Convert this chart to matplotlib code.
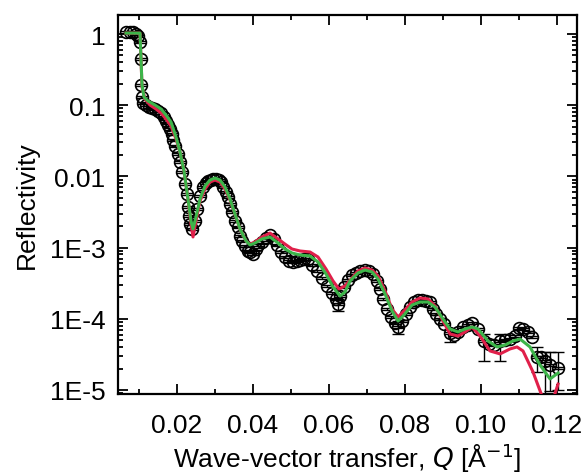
import numpy as np
import matplotlib
matplotlib.use("Agg")
import matplotlib.pyplot as plt
from matplotlib.ticker import FixedLocator, FixedFormatter, MultipleLocator, LogLocator, NullFormatter

plt.rcParams['font.family'] = ['Liberation Sans', 'DejaVu Sans']

# ---- measured data (circles) ----
Q_data = [0.00658, 0.00763, 0.00842, 0.00921, 0.00974, 0.01026, 0.0104, 0.01053, 0.01079, 0.01105,
          0.01184, 0.01263, 0.01342, 0.01421, 0.0150, 0.01579, 0.01658, 0.01711, 0.01763, 0.01816,
          0.01868, 0.01895, 0.01947, 0.02026, 0.02079, 0.02132, 0.0221, 0.02263, 0.02289, 0.02316,
          0.02342, 0.02395, 0.02474, 0.02526, 0.02605, 0.02684, 0.02763, 0.02816, 0.02895, 0.02947,
          0.03026, 0.03105, 0.03158, 0.03211, 0.03289, 0.03342, 0.03395, 0.03447, 0.03526, 0.03605,
          0.03658, 0.03711, 0.03789, 0.03868, 0.03921, 0.0400, 0.04079, 0.04132, 0.04237, 0.04342,
          0.04447, 0.04553, 0.04632, 0.04737, 0.04842, 0.04947, 0.05053, 0.05158, 0.05237, 0.05342,
          0.05447, 0.05553, 0.05684, 0.05816, 0.05947, 0.06079, 0.06184, 0.06237, 0.06289, 0.06395,
          0.0650, 0.06605, 0.06711, 0.06816, 0.06947, 0.07053, 0.07158, 0.07263, 0.07342, 0.07421,
          0.07526, 0.07632, 0.07737, 0.07816, 0.07921, 0.08026, 0.08132, 0.08237, 0.08342, 0.08447,
          0.08553, 0.08658, 0.08737, 0.08816, 0.08921, 0.09026, 0.09184, 0.09289, 0.09395, 0.09526,
          0.09658, 0.09763, 0.09921, 0.10079, 0.10211, 0.10342, 0.1050, 0.10632, 0.10763, 0.10895,
          0.1100, 0.11105, 0.11237, 0.11342, 0.11474, 0.11579, 0.11684, 0.11816, 0.12026]
R_data = [1.07, 1.07, 1.07, 1.00, 0.937, 0.772, 0.446, 0.192, 0.130, 0.107,
          0.1006, 0.0944, 0.0914, 0.0885, 0.0829, 0.0777, 0.0683, 0.060, 0.0527, 0.0463,
          0.0394, 0.0325, 0.0267, 0.0206, 0.0159, 0.0115, 0.00782, 0.00566, 0.00372, 0.00278,
          0.00214, 0.00183, 0.00237, 0.00349, 0.00531, 0.0071, 0.00807, 0.00861, 0.00889, 0.00919,
          0.00919, 0.00889, 0.00834, 0.0071, 0.00604, 0.00514, 0.00409, 0.00316, 0.00237, 0.00195,
          0.00146, 0.00124, 0.00105, 0.000896, 0.000867, 0.000813, 0.000955, 0.00109, 0.0012, 0.00136,
          0.0015, 0.00132, 0.00109, 0.000867, 0.000738, 0.000649, 0.000628, 0.000649, 0.00067, 0.000692,
          0.000692, 0.00057, 0.000469, 0.000374, 0.000289, 0.00023, 0.00019, 0.000161, 0.000209, 0.00028,
          0.000351, 0.000412, 0.00044, 0.000469, 0.000484, 0.000469, 0.000426, 0.00034, 0.000262, 0.00019,
          0.000137, 0.000106, 8.73e-5, 7.67e-5, 9.31e-5, 0.000117, 0.000146, 0.000172, 0.000184, 0.000184,
          0.000178, 0.000172, 0.000137, 0.000117, 9.93e-5, 8.45e-5, 6.32e-5, 5.92e-5, 6.53e-5, 7.67e-5,
          8.18e-5, 8.73e-5, 7.19e-5, 4.88e-5, 4.42e-5, 4.28e-5, 4.88e-5, 5.04e-5, 5.2e-5, 5.73e-5,
          7.43e-5, 7.19e-5, 6.53e-5, 5.55e-5, 2.9e-5, 2.9e-5, 2.55e-5, 2.24e-5, 2.04e-5]
SMALL_REL_ERR = 0.03  # small error bars hidden inside the circles

# points with visibly large error bars
bar_Q  = [0.06237, 0.07816, 0.09184, 0.10079, 0.1050, 0.11474, 0.11684, 0.11816, 0.12026]
bar_R  = [0.000161, 7.67e-5, 6.32e-5, 4.88e-5, 4.88e-5, 2.9e-5, 2.55e-5, 2.24e-5, 2.04e-5]
bar_lo = [0.000128, 6.1e-5, 4.7e-5, 2.55e-5, 2.55e-5, 1.79e-5, 7.5e-6, 9.7e-6, 1.0e-5]
bar_hi = [0.00019, 9.3e-5, 7.2e-5, 6.1e-5, 6.1e-5, 4.0e-5, 3.42e-5, 3.42e-5, 3.42e-5]

# ---- model curves ----
Q_green = [0.00658, 0.01026, 0.01053, 0.01079, 0.01132, 0.01237, 0.01421, 0.01579, 0.01711, 0.01842,
           0.01974, 0.02079, 0.02184, 0.02289, 0.02368, 0.02421, 0.0250, 0.02605, 0.02737, 0.02868,
           0.0300, 0.03132, 0.03263, 0.03395, 0.03526, 0.03658, 0.03816, 0.03921, 0.04053, 0.04237,
           0.04447, 0.04658, 0.04842, 0.05026, 0.05237, 0.0550, 0.0571, 0.05921, 0.06105, 0.06289,
           0.06421, 0.06553, 0.06763, 0.06947, 0.07132, 0.07289, 0.07474, 0.07658, 0.07816, 0.07974,
           0.08184, 0.08395, 0.08605, 0.08789, 0.0900, 0.09184, 0.09395, 0.09579, 0.09763, 0.09921,
           0.10184, 0.10421, 0.10632, 0.10842, 0.11026, 0.11289, 0.11553, 0.11816, 0.12026]
R_green = [1.03, 1.03, 0.446, 0.192, 0.130, 0.1146, 0.1006, 0.0885, 0.0728, 0.0581,
           0.0357, 0.0220, 0.0119, 0.00482, 0.00237, 0.00183, 0.00269, 0.00482, 0.00733, 0.00889,
           0.0095, 0.00889, 0.0071, 0.00482, 0.00296, 0.00183, 0.00124, 0.00109, 0.00116, 0.00132,
           0.00141, 0.00116, 0.000955, 0.00084, 0.000787, 0.000762, 0.000628, 0.000426, 0.00028, 0.000209,
           0.000238, 0.00034, 0.00044, 0.000484, 0.000454, 0.000362, 0.000223, 0.000129, 9.31e-5, 0.000113,
           0.000156, 0.000172, 0.000172, 0.000146, 9.93e-5, 7.19e-5, 6.53e-5, 7.19e-5, 7.67e-5, 7.19e-5,
           4.88e-5, 4.02e-5, 4.28e-5, 4.88e-5, 5.2e-5, 4.02e-5, 2.24e-5, 1.43e-5, 1.73e-5]

Q_red = [0.00658, 0.01026, 0.01053, 0.01079, 0.01158, 0.0129, 0.01447, 0.01579, 0.01711, 0.01842,
         0.01974, 0.02079, 0.02184, 0.02289, 0.02368, 0.02421, 0.0250, 0.02605, 0.02737, 0.02868,
         0.0300, 0.03132, 0.03263, 0.03395, 0.03526, 0.03658, 0.03816, 0.03921, 0.04053, 0.04237,
         0.04447, 0.04658, 0.04842, 0.05026, 0.05237, 0.0550, 0.0571, 0.05921, 0.06105, 0.06263,
         0.06421, 0.06605, 0.06763, 0.06947, 0.07132, 0.07289, 0.07474, 0.07658, 0.07816, 0.07974,
         0.08184, 0.08395, 0.08605, 0.08789, 0.0900, 0.09184, 0.09395, 0.09579, 0.09763, 0.09974,
         0.10237, 0.1050, 0.10763, 0.10947, 0.11105, 0.11368, 0.11632, 0.11816, 0.12026]
R_red = [1.03, 1.03, 0.446, 0.180, 0.122, 0.1006, 0.0885, 0.0777, 0.064, 0.051,
         0.0335, 0.0220, 0.0119, 0.00482, 0.00214, 0.00141, 0.00237, 0.00451, 0.00665, 0.00834,
         0.00889, 0.00834, 0.00665, 0.00466, 0.00296, 0.00183, 0.00124, 0.00112, 0.0012, 0.00141,
         0.0016, 0.00132, 0.00112, 0.000955, 0.000896, 0.000867, 0.000738, 0.0005, 0.00034, 0.000262,
         0.000289, 0.000374, 0.000469, 0.000517, 0.000484, 0.000399, 0.000246, 0.000137, 0.000106, 0.000129,
         0.000172, 0.000196, 0.00019, 0.000151, 9.31e-5, 6.12e-5, 5.73e-5, 6.53e-5, 7.67e-5, 5.73e-5,
         3.53e-5, 3.21e-5, 3.77e-5, 4.02e-5, 3.53e-5, 1.79e-5, 7.5e-6, 5.4e-6, 1.21e-5]

y_tick_vals = [1e-5, 1e-4, 1e-3, 1e-2, 1e-1, 1]
y_tick_labels = ['1E-5', '1E-4', '1E-3', '0.01', '0.1', '1']
x_tick_vals = [0.02, 0.04, 0.06, 0.08, 0.10, 0.12]
x_tick_labels = ['0.02', '0.04', '0.06', '0.08', '0.10', '0.12']

fig = plt.figure(figsize=(5.87, 4.77), dpi=100)
ax = fig.add_axes([0.201, 0.172, 0.782, 0.795])

Qd = np.array(Q_data)
Rd = np.array(R_data)
ax.errorbar(Qd, Rd, yerr=Rd * SMALL_REL_ERR, fmt='none', ecolor='black',
            elinewidth=1.0, capsize=4.0, capthick=1.0, zorder=2)
bR = np.array(bar_R)
ax.errorbar(bar_Q, bar_R, yerr=[bR - np.array(bar_lo), np.array(bar_hi) - bR], fmt='none',
            ecolor='black', elinewidth=1.0, capsize=4.0, capthick=1.0, zorder=2)
ax.plot(Qd, Rd, linestyle='none', marker='o', markersize=8.5, markerfacecolor='none',
        markeredgecolor='black', markeredgewidth=1.2, zorder=3)

ax.plot(Q_red, R_red, color='#e0204a', linewidth=2.2, zorder=4)
ax.plot(Q_green, R_green, color='#3db54a', linewidth=2.2, zorder=5)

ax.set_yscale('log')
ax.set_xlim(0.00447, 0.12526)
ax.set_ylim(8.79e-6, 1.866)

ax.xaxis.set_major_locator(FixedLocator(x_tick_vals))
ax.xaxis.set_major_formatter(FixedFormatter(x_tick_labels))
ax.xaxis.set_minor_locator(MultipleLocator(0.01))
ax.yaxis.set_major_locator(FixedLocator(y_tick_vals))
ax.yaxis.set_major_formatter(FixedFormatter(y_tick_labels))
ax.yaxis.set_minor_locator(LogLocator(base=10, subs=np.arange(2, 10)))
ax.yaxis.set_minor_formatter(NullFormatter())

ax.tick_params(which='both', direction='in', top=True, right=True, width=1.3, colors='black',
               labelsize=19)
ax.tick_params(which='major', length=7)
ax.tick_params(which='minor', length=3.5)
ax.tick_params(axis='x', which='major', pad=14)
ax.tick_params(axis='y', which='major', pad=9)
for s in ax.spines.values():
    s.set_linewidth(1.6)

ax.set_xlabel('Wave-vector transfer, $\\mathit{Q}$ [Å$^{-1}$]', fontsize=19, labelpad=2)
ax.set_ylabel('Reflectivity', fontsize=19, labelpad=8)

fig.savefig('out.png', dpi=100)
